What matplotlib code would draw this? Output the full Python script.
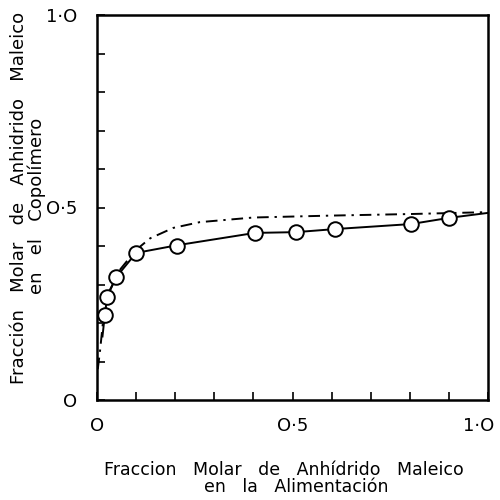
import matplotlib
matplotlib.use("Agg")
import matplotlib.pyplot as plt
import matplotlib.transforms as mtransforms

# datos experimentales (circulos)
x_exp = [0.020, 0.026, 0.049, 0.100, 0.205, 0.404, 0.509, 0.609, 0.803, 0.900]
y_exp = [0.221, 0.268, 0.319, 0.382, 0.400, 0.434, 0.436, 0.444, 0.457, 0.473]

# curva continua (ajuste)
x_fit = [0.014, 0.020, 0.026, 0.049, 0.100, 0.205, 0.404, 0.509, 0.609, 0.803, 0.900, 1.000]
y_fit = [0.165, 0.221, 0.268, 0.319, 0.382, 0.402, 0.434, 0.436, 0.444, 0.457, 0.473, 0.486]

# curva punto-raya (teorica)
x_teo = [0.002, 0.008, 0.015, 0.030, 0.060, 0.100, 0.136, 0.195, 0.263, 0.400, 0.600, 0.800, 1.000]
y_teo = [0.080, 0.130, 0.200, 0.280, 0.340, 0.390, 0.420, 0.447, 0.462, 0.474, 0.479, 0.483, 0.488]

tick_pos = [0, 0.5, 1.0]
tick_lab = ["O", "O·5", "1·O"]

fig = plt.figure(figsize=(5, 5), dpi=100)
ax = fig.add_axes([0.194, 0.20, 0.782, 0.77])

ax.plot(x_teo, y_teo, color="black", lw=1.4, linestyle=(0, (6, 3, 1.2, 3)))
ax.plot(x_fit, y_fit, color="black", lw=1.4)
ax.plot(x_exp, y_exp, "o", ms=10.5, mfc="white", mec="black", mew=1.4)

ax.set_xlim(0, 1)
ax.set_ylim(0, 1)
for s in ax.spines.values():
    s.set_linewidth(1.8)

ax.set_xticks(tick_pos)
ax.set_xticklabels(tick_lab, fontsize=13)
ax.set_yticks(tick_pos)
ax.set_yticklabels(tick_lab, fontsize=13)
ax.set_xticks([i / 10 for i in range(11)], minor=True)
ax.set_yticks([i / 10 for i in range(11)], minor=True)
ax.tick_params(which="both", direction="in", length=6, width=1.2)
ax.tick_params(axis="x", which="major", pad=12)
ax.tick_params(axis="y", which="major", pad=14)

# el ultimo rotulo de x un poco a la izquierda
lab = ax.get_xticklabels()[-1]
lab.set_transform(lab.get_transform() + mtransforms.ScaledTranslation(-9 / 100, 0, fig.dpi_scale_trans))

# titulos de ejes (dos renglones)
fig.text(0.568, 0.060, "Fraccion   Molar   de   Anhídrido   Maleico",
         ha="center", va="center", fontsize=12.5)
fig.text(0.592, 0.025, "en   la   Alimentación",
         ha="center", va="center", fontsize=12.5)
fig.text(0.038, 0.604, "Fracción   Molar   de   Anhidrido   Maleico",
         ha="center", va="center", rotation=90, fontsize=13)
fig.text(0.074, 0.588, "en   el   Copolímero",
         ha="center", va="center", rotation=90, fontsize=13)

plt.savefig("out.png", dpi=100)
